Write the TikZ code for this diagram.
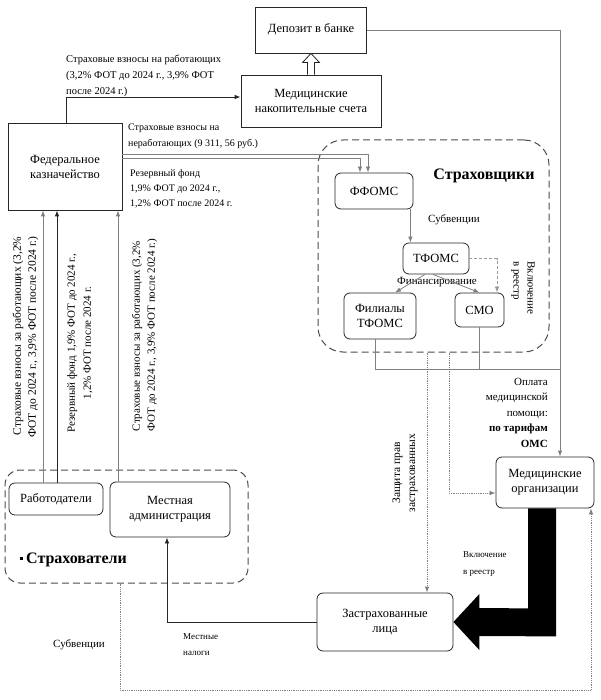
\documentclass[tikz,border=0pt]{standalone}
\usepackage{fontspec}
\setmainfont{Liberation Serif}
\usetikzlibrary{arrows.meta,calc}
\newcommand\fsz[2]{\fontsize{#1}{#2}\selectfont}
\begin{document}
\begin{tikzpicture}[x=1pt,y=-1pt,
  box/.style={draw=black!85, line width=0.8pt, align=center, inner sep=0pt, font=\fsz{12.5}{15}},
  rbox/.style={box, rounded corners=6pt},
  grp/.style={draw=black!70, line width=1pt, dash pattern=on 7pt off 4pt, inner sep=0pt},
  lbl/.style={inner sep=0pt, font=\fsz{10}{16}, align=left},
  conn/.style={draw=black!50, line width=0.8pt, -{Latex[length=6pt,width=4.5pt]}},
  connd/.style={conn, draw=black!85},
  link/.style={draw=black!50, line width=0.8pt},
  dot/.style={densely dotted},
]
\useasboundingbox (0,0) rectangle (600,700);

% boxes
\node[box, minimum width=111pt, minimum height=46pt] (dep) at (311,30) {\raisebox{4pt}{Депозит в банке}};
\node[box, minimum width=140pt, minimum height=52pt] (mns) at (311,101) {Медицинские\\накопительные счета};
\node[box, minimum width=114pt, minimum height=87pt] (fed) at (65,166.5) {Федеральное\\казначейство};
\node[grp, rounded corners=25pt, minimum width=231pt, minimum height=212pt] (strh) at (433.5,246) {};
\node[rbox, minimum width=78pt, minimum height=36pt] (ffoms) at (374,191) {ФФОМС};
\node[rbox, minimum width=66pt, minimum height=31pt] (tfoms) at (436,258.5) {ТФОМС};
\node[rbox, minimum width=72pt, minimum height=46pt] (fil) at (380,316) {Филиалы\\ТФОМС};
\node[rbox, minimum width=49pt, minimum height=34pt] (smo) at (479.5,310) {СМО};
\node[rbox, minimum width=98pt, minimum height=51pt] (mo) at (545,482.5) {Медицинские\\организации};
\node[rbox, minimum width=136pt, minimum height=58pt] (zl) at (385,622) {Застрахованные\\лица};
\node[grp, rounded corners=15pt, minimum width=243pt, minimum height=113pt] (strv) at (126.5,526.5) {};
\node[rbox, minimum width=94pt, minimum height=32pt] (rab) at (56,499) {Работодатели};
\node[rbox, minimum width=120pt, minimum height=55pt] (madm) at (170,509.5) {Местная\\администрация};

% group titles
\node[inner sep=0pt, font=\bfseries\fsz{16}{18}] (strht) at (484,176) {Страховщики};
\node[inner sep=0pt, font=\bfseries\fsz{16}{18}, anchor=west] (strvt) at (20,560) {\rule[4pt]{2.5pt}{2.5pt}\hspace{3.5pt}Страхователи};

% labels
\node[lbl, font=\fsz{10.5}{16}, anchor=north west] (l1) at (66,55) {Страховые взносы на работающих\\(3,2\% ФОТ до 2024 г., 3,9\% ФОТ\\после 2024 г.)};
\node[lbl, anchor=north west] (l2) at (128,124) {Страховые взносы на\\неработающих (9 311, 56 руб.)};
\node[lbl, font=\fsz{10}{15}, anchor=north west] (l3) at (130,169) {Резервный фонд\\1,9\% ФОТ до 2024 г.,\\1,2\% ФОТ после 2024 г.};
\node[lbl, font=\fsz{11}{13}, anchor=west] (sub1) at (428,220) {Субвенции};
\node[lbl, font=\fsz{11}{13}] (fin) at (437,282) {Финансирование};
\node[lbl, font=\fsz{11}{14}, rotate=-90, align=left] (vkl1) at (523,288) {Включение\\в реестр};
\node[lbl, font=\fsz{11}{15.5}, align=right, anchor=north east] (opl) at (548,378) {Оплата\\медицинской\\помощи:\\\textbf{по тарифам}\\\textbf{ОМС}};
\node[lbl, font=\fsz{11.5}{15}, rotate=90, align=center] (zash) at (405,473) {Защита прав\\застрахованных};
\node[lbl, font=\fsz{9}{17}, anchor=west] (vkl2) at (463,564) {Включение\\в реестр};
\node[lbl, font=\fsz{9}{16}, anchor=west] (mn) at (183,645) {Местные\\налоги};
\node[lbl, font=\fsz{11}{13}] (sub2) at (79,645) {Субвенции};
\node[lbl, font=\fsz{11.5}{15}, rotate=90, align=right] (lr1) at (25.5,337) {Страховые взносы за работающих (3,2\%\\ФОТ до 2024 г., 3,9\% ФОТ после 2024 г.)};
\node[lbl, font=\fsz{11}{16}, rotate=90, align=center] (lr2) at (80,343) {Резервный фонд 1,9\% ФОТ до 2024 г.,\\1,2\% ФОТ после 2024 г.};
\node[lbl, font=\fsz{11}{15}, rotate=90, align=left] (lr3) at (144.5,335) {Страховые взносы за работающих (3,2\%\\ФОТ до 2024 г., 3,9\% ФОТ после 2024 г.)};

% connectors
\draw[conn] (dep.east) -| ([xshift=15pt]mo.north);
\draw[draw=black!85, line width=0.8pt, fill=white]
  ($(mns.north)+(-3.5,0)$) -- ($(mns.north)+(-3.5,-12)$) -- ($(mns.north)+(-8.5,-12)$)
  -- (dep.south) -- ($(mns.north)+(8.5,-12)$) -- ($(mns.north)+(3.5,-12)$) -- ($(mns.north)+(3.5,0)$);
\draw[connd] ([xshift=1pt]fed.north) |- ([yshift=4pt]mns.west);
\draw[conn] ([yshift=12.5pt]fed.east) -| ([xshift=-6pt]ffoms.north);
\draw[conn] ([yshift=8.5pt]fed.east) -| ([xshift=-14pt]ffoms.north);

\coordinate (f1) at ([xshift=-3pt]ffoms.south east);
\draw[conn] (f1) -- (f1 |- tfoms.north);
\draw[conn] ([xshift=-11pt]tfoms.south) -- ([xshift=15pt]fil.north);
\draw[conn] ([xshift=-3pt]tfoms.south) -- (smo.north);
\draw[conn, draw=black!40, dash pattern=on 3pt off 2pt] (tfoms.east) -| ([xshift=17.5pt]smo.north);

\coordinate (j) at (560,369);
\draw[link] ([xshift=-5pt]fil.south) |- (j);
\draw[link] (smo.south) -- (smo.south |- j);

\coordinate (d1) at ([xshift=-6.5pt]strh.south);
\draw[conn, dot] (d1) -- (d1 |- zl.north);
\coordinate (d2) at ([xshift=15.5pt]strh.south);
\draw[conn, dot] (d2) |- ([yshift=-10.5pt]mo.west);

\fill[black] ($(mo.south)+(-17,0)$) -- ($(mo.south)+(11,0)$) -- ($(mo.south)+(11,128)$)
  -- ($(zl.east)+(26,14)$) -- ($(zl.east)+(26,28)$) -- (zl.east) -- ($(zl.east)+(26,-28)$)
  -- ($(zl.east)+(26,-14)$) -- ($(mo.south)+(-17,100)$) -- cycle;

\coordinate (s1) at ([xshift=-6.5pt]strv.south);
\coordinate (bot) at (0,690);
\draw[conn, dot] (s1) -- (s1 |- bot) -| ([xshift=46pt]mo.south);

\draw[connd] (zl.west) -| ([xshift=-3pt]madm.south);

\coordinate (ra) at ([xshift=-13pt]rab.north);
\draw[conn] (ra) -- (ra |- fed.south);
\coordinate (rb) at ([xshift=1pt]rab.north);
\draw[connd] (rb) -- (rb |- fed.south);
\coordinate (ma) at ([xshift=-52pt]madm.north);
\draw[conn] (ma) -- (ma |- fed.south);
\end{tikzpicture}
\end{document}
